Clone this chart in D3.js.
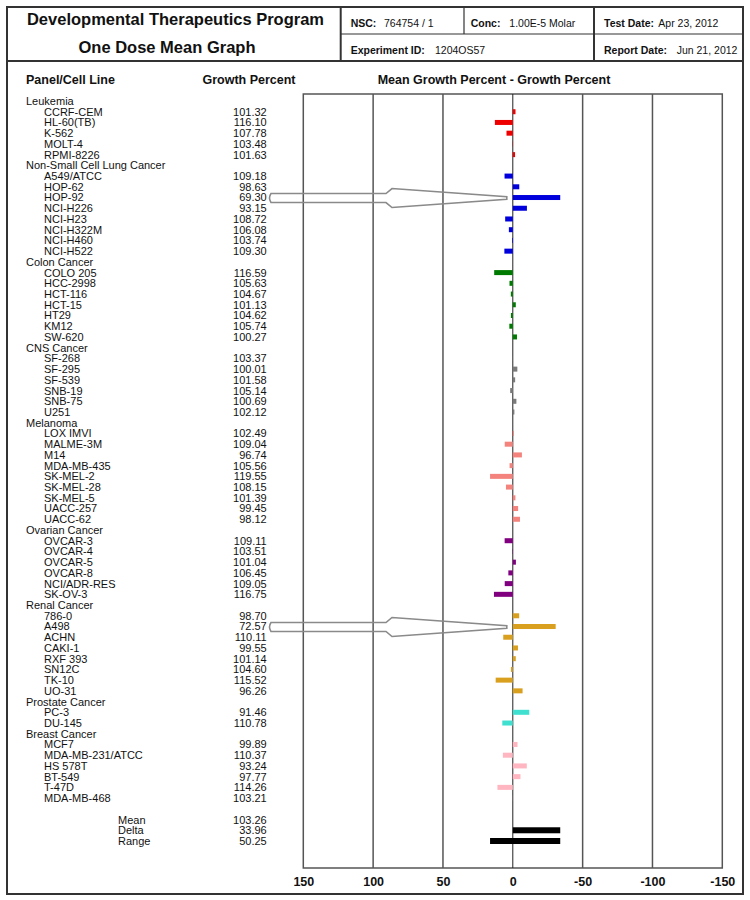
<!DOCTYPE html>
<html>
  <head>
    <meta charset="utf-8">
    <style>
      body { margin: 0; background: #fff; }
      svg text { font-family: "Liberation Sans", Arial, sans-serif; fill: #111; }
    </style>
    <script type="text/javascript" src="https://d3js.org/d3.v7.min.js"></script>
  </head>
  <body>
    <svg></svg>
    <script>
    // ---- data ----
    var panelNames = ["Leukemia", "Non-Small Cell Lung Cancer", "Colon Cancer", "CNS Cancer",
                      "Melanoma", "Ovarian Cancer", "Renal Cancer", "Prostate Cancer", "Breast Cancer"];
    var panelSizes = [5, 8, 7, 6, 9, 6, 8, 2, 6];
    var cellNames = [
      "CCRF-CEM", "HL-60(TB)", "K-562", "MOLT-4", "RPMI-8226",
      "A549/ATCC", "HOP-62", "HOP-92", "NCI-H226", "NCI-H23", "NCI-H322M", "NCI-H460", "NCI-H522",
      "COLO 205", "HCC-2998", "HCT-116", "HCT-15", "HT29", "KM12", "SW-620",
      "SF-268", "SF-295", "SF-539", "SNB-19", "SNB-75", "U251",
      "LOX IMVI", "MALME-3M", "M14", "MDA-MB-435", "SK-MEL-2", "SK-MEL-28", "SK-MEL-5", "UACC-257", "UACC-62",
      "OVCAR-3", "OVCAR-4", "OVCAR-5", "OVCAR-8", "NCI/ADR-RES", "SK-OV-3",
      "786-0", "A498", "ACHN", "CAKI-1", "RXF 393", "SN12C", "TK-10", "UO-31",
      "PC-3", "DU-145",
      "MCF7", "MDA-MB-231/ATCC", "HS 578T", "BT-549", "T-47D", "MDA-MB-468"
    ];
    var growthPercent = [
      101.32, 116.10, 107.78, 103.48, 101.63,
      109.18, 98.63, 69.30, 93.15, 108.72, 106.08, 103.74, 109.30,
      116.59, 105.63, 104.67, 101.13, 104.62, 105.74, 100.27,
      103.37, 100.01, 101.58, 105.14, 100.69, 102.12,
      102.49, 109.04, 96.74, 105.56, 119.55, 108.15, 101.39, 99.45, 98.12,
      109.11, 103.51, 101.04, 106.45, 109.05, 116.75,
      98.70, 72.57, 110.11, 99.55, 101.14, 104.60, 115.52, 96.26,
      91.46, 110.78,
      99.89, 110.37, 93.24, 97.77, 114.26, 103.21
    ];
    var summaryLabels = ["Mean", "Delta", "Range"];
    var summaryValues = [103.26, 33.96, 50.25];
    var tickValues = [150, 100, 50, 0, -50, -100, -150];
    var arrowCells = ["HOP-92", "A498"];

    var width = 750, height = 900;
    var svg = d3.select("svg").attr("width", width).attr("height", height);

    var color = d3.scaleOrdinal()
        .domain(panelNames)
        .range(["#ee0000", "#0000dd", "#007a00", "#7a7a7a", "#f4837d",
                "#800080", "#d9a020", "#40e0d0", "#ffb6c1"]);

    // build rows: a header row per panel, then its cell lines
    var rows = [];
    var k = 0;
    panelNames.forEach(function(p, i) {
      rows.push({ type: "panel", name: p });
      for (var j = 0; j < panelSizes[i]; j++) {
        rows.push({ type: "cell", name: cellNames[k], value: growthPercent[k], panel: p });
        k++;
      }
    });
    rows.push({ type: "blank" });
    summaryLabels.forEach(function(s, i) {
      rows.push({ type: "summary", name: s, value: summaryValues[i] });
    });
    rows.forEach(function(r, i) { r.i = i; });

    var mean = summaryValues[0];
    var y = d3.scaleLinear().domain([0, rows.length - 1]).range([101, 841]);
    var x = d3.scaleLinear().domain([150, -150]).range([303.3, 722.3]);
    var plotTop = 94, plotBottom = 868;

    // ---- frame and header ----
    var frame = svg.append("g").attr("stroke", "#333").attr("fill", "none");
    frame.append("rect").attr("x", 7).attr("y", 7).attr("width", 736).attr("height", 887)
        .attr("stroke-width", 2);
    frame.append("line").attr("x1", 7).attr("x2", 743).attr("y1", 61).attr("y2", 61).attr("stroke-width", 2);
    frame.append("line").attr("x1", 340.7).attr("x2", 340.7).attr("y1", 7).attr("y2", 61).attr("stroke-width", 2);
    frame.append("line").attr("x1", 594).attr("x2", 594).attr("y1", 7).attr("y2", 61).attr("stroke-width", 2);
    frame.append("line").attr("x1", 464).attr("x2", 464).attr("y1", 7).attr("y2", 34).attr("stroke-width", 1.2);
    frame.append("line").attr("x1", 340.7).attr("x2", 743).attr("y1", 34).attr("y2", 34).attr("stroke-width", 1.2);

    svg.append("text").attr("x", 175.5).attr("y", 25).attr("text-anchor", "middle")
        .attr("font-size", 16.5).attr("font-weight", "bold").text("Developmental Therapeutics Program");
    svg.append("text").attr("x", 167).attr("y", 53).attr("text-anchor", "middle")
        .attr("font-size", 16.5).attr("font-weight", "bold").text("One Dose Mean Graph");

    var info = [
      ["NSC:", "764754 / 1", 350.7, 384, 26.5],
      ["Conc:", "1.00E-5 Molar", 470.7, 509.3, 26.5],
      ["Test Date:", "Apr 23, 2012", 604, 658.3, 26.5],
      ["Experiment ID:", "1204OS57", 350.7, 435, 54],
      ["Report Date:", "Jun 21, 2012", 604, 676.7, 54]
    ];
    info.forEach(function(d) {
      svg.append("text").attr("x", d[2]).attr("y", d[4]).attr("font-size", 10.5)
          .attr("font-weight", "bold").text(d[0]);
      svg.append("text").attr("x", d[3]).attr("y", d[4]).attr("font-size", 10.5).text(d[1]);
    });

    // column headings
    svg.append("text").attr("x", 26).attr("y", 84).attr("font-size", 12.5)
        .attr("font-weight", "bold").text("Panel/Cell Line");
    svg.append("text").attr("x", 249).attr("y", 84).attr("text-anchor", "middle").attr("font-size", 12.5)
        .attr("font-weight", "bold").text("Growth Percent");
    svg.append("text").attr("x", 494).attr("y", 84).attr("text-anchor", "middle").attr("font-size", 12.5)
        .attr("font-weight", "bold").text("Mean Growth Percent - Growth Percent");

    // ---- plot grid ----
    var grid = svg.append("g");
    grid.selectAll("line.grid")
      .data(tickValues.filter(function(t) { return t !== 0 && Math.abs(t) !== 150; }))
      .enter().append("line")
        .attr("class", "grid")
        .attr("x1", function(d) { return x(d); })
        .attr("x2", function(d) { return x(d); })
        .attr("y1", plotTop).attr("y2", plotBottom)
        .attr("stroke", "#555").attr("stroke-width", 1.5);
    grid.append("rect")
        .attr("x", x(150)).attr("y", plotTop)
        .attr("width", x(-150) - x(150)).attr("height", plotBottom - plotTop)
        .attr("fill", "none").attr("stroke", "#555").attr("stroke-width", 1.5);
    grid.append("line")
        .attr("x1", x(0)).attr("x2", x(0)).attr("y1", plotTop).attr("y2", plotBottom)
        .attr("stroke", "#222").attr("stroke-width", 1);

    svg.append("g")
        .attr("transform", "translate(0," + plotBottom + ")")
        .call(d3.axisBottom(x).tickValues(tickValues).tickSize(0).tickPadding(9)
              .tickFormat(function(d) { return String(d); }))
        .call(function(g) { g.select(".domain").remove(); })
        .selectAll("text")
          .attr("font-size", 12.5).attr("font-weight", "bold")
          .style("font-family", "'Liberation Sans', Arial, sans-serif").attr("fill", "#111");

    // ---- row labels ----
    var labels = svg.append("g").attr("font-size", 11);
    labels.selectAll("text.name")
      .data(rows.filter(function(r) { return r.type !== "blank"; }))
      .enter().append("text")
        .attr("class", "name")
        .attr("x", function(r) { return r.type === "panel" ? 26 : (r.type === "cell" ? 44 : 118); })
        .attr("y", function(r) { return y(r.i); })
        .attr("dy", "0.36em")
        .text(function(r) { return r.name; });
    labels.selectAll("text.val")
      .data(rows.filter(function(r) { return r.value !== undefined; }))
      .enter().append("text")
        .attr("class", "val")
        .attr("x", 266.7)
        .attr("text-anchor", "end")
        .attr("y", function(r) { return y(r.i); })
        .attr("dy", "0.36em")
        .text(function(r) { return r.value.toFixed(2); });

    // ---- bars ----
    var barH = 5;
    var cells = rows.filter(function(r) { return r.type === "cell"; });
    svg.append("g").selectAll("rect")
      .data(cells)
      .enter().append("rect")
        .attr("x", function(r) { return Math.min(x(0), x(r.value - mean)); })
        .attr("width", function(r) { return Math.abs(x(r.value - mean) - x(0)); })
        .attr("y", function(r) { return y(r.i) - barH / 2; })
        .attr("height", barH)
        .attr("fill", function(r) { return color(r.panel); });

    var hi = d3.max(growthPercent) - mean, lo = d3.min(growthPercent) - mean;
    var deltaRow = rows.find(function(r) { return r.name === "Delta"; });
    var rangeRow = rows.find(function(r) { return r.name === "Range"; });
    var summaryBars = [
      { row: deltaRow, from: 0, to: -summaryValues[1] },
      { row: rangeRow, from: hi, to: lo }
    ];
    svg.append("g").selectAll("rect")
      .data(summaryBars)
      .enter().append("rect")
        .attr("x", function(d) { return Math.min(x(d.from), x(d.to)); })
        .attr("width", function(d) { return Math.abs(x(d.to) - x(d.from)); })
        .attr("y", function(d) { return y(d.row.i) - 3; })
        .attr("height", 6)
        .attr("fill", "#000");

    // ---- hand-drawn style arrows pointing at the strong responders ----
    var arrowRows = cells.filter(function(r) { return arrowCells.indexOf(r.name) >= 0; });
    svg.append("g").selectAll("path")
      .data(arrowRows)
      .enter().append("path")
        .attr("d", function(r) {
          var cy = y(r.i) + 0.5, x0 = x(0) - 6;
          return "M271," + (cy - 4.5) + " L386," + (cy - 4.5) + " L392," + (cy - 9.5) +
                 " L" + x0 + "," + (cy - 1.3) + " L" + x0 + "," + (cy + 1.3) +
                 " L392," + (cy + 9.5) + " L386," + (cy + 4.5) + " L271," + (cy + 4.5) +
                 " Q268," + cy + " 271," + (cy - 4.5) + "Z";
        })
        .attr("fill", "none")
        .attr("stroke", "#8a8a8a")
        .attr("stroke-width", 1.6);
    </script>
  </body>
</html>
